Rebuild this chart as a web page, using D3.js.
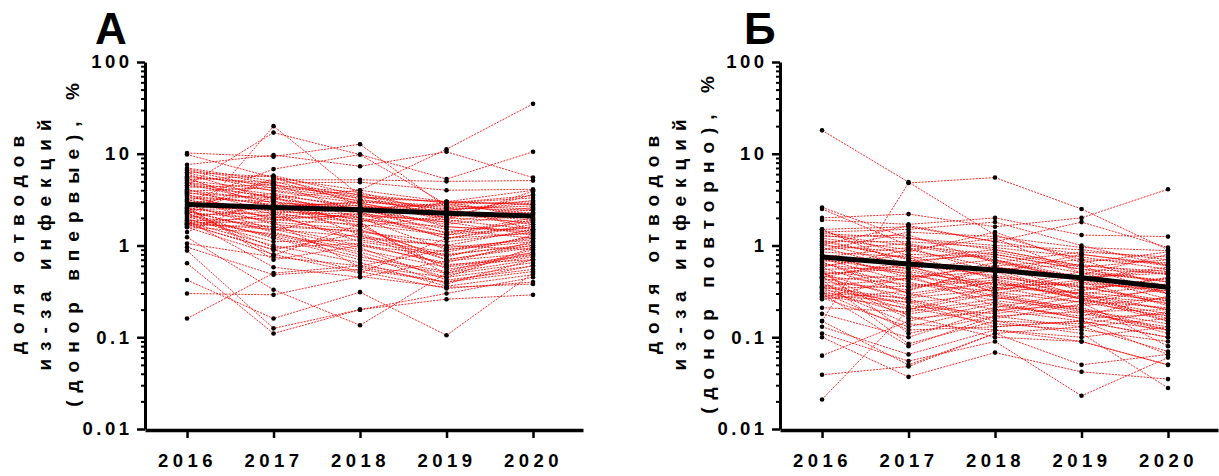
<!DOCTYPE html>
<html>
<head>
<meta charset="utf-8">
<script src="https://cdn.jsdelivr.net/npm/d3@7"></script>
<style>
  html, body { margin: 0; padding: 0; background: #fff; }
  svg { display: block; }
  .lbl { font-family: "Liberation Sans", Arial, sans-serif; font-weight: bold; fill: #000; }
  .num { font-family: "Liberation Sans Narrow", "Liberation Sans", Arial, sans-serif; font-weight: bold; fill: #000; }
</style>
</head>
<body>
<svg id="chart" width="1219" height="476"></svg>
<script>
const years = [2016, 2017, 2018, 2019, 2020];
const yTicks = [0.01, 0.1, 1, 10, 100];

// панель А: донор впервые, каждая строка — регион (2016..2020)
const seriesA = [
  [1.6, 20, 3.5, 2.0, 1.8], [4.5, 17, 9.8, 2.8, 2.2], [10.2, 9.3, 12.7, 2.6, 1.5],
  [9.8, 5.5, 4.0, 11.2, 35], [7.6, 9.7, 7.3, 10.5, 5.5], [3.0, 6.8, 9.8, 5.3, 10.5],
  [0.64, 0.11, 0.2, 0.3, 0.45], [0.16, 0.5, 0.6, 0.9, 1.2], [0.3, 0.29, 0.46, 0.35, 0.38],
  [0.42, 0.16, 0.31, 0.105, 0.5], [0.88, 0.125, 0.2, 0.26, 0.29], [1.23, 0.33, 0.135, 0.5, 0.7],
  [0.96, 0.48, 0.55, 0.4, 0.6], [1.05, 0.75, 0.6, 0.45, 0.95], [2.2, 5.2, 5.2, 5.0, 5.1],
  [5.5, 4.8, 4.9, 4.0, 4.1], [6.2, 3.9, 2.9, 1.9, 3.9], [7.0, 5.0, 3.0, 2.6, 2.4],
  [6.6, 4.2, 3.3, 3.0, 2.8], [6.3, 5.6, 2.8, 1.6, 1.4], [6.0, 3.2, 2.5, 2.9, 3.3],
  [5.7, 4.5, 3.8, 2.2, 1.9], [5.4, 2.6, 1.9, 1.3, 1.6], [5.1, 4.0, 3.1, 2.7, 2.5],
  [4.9, 3.6, 2.0, 0.9, 1.1], [4.7, 2.9, 2.7, 2.4, 2.9], [4.5, 3.4, 1.6, 0.7, 0.95],
  [4.3, 4.6, 3.4, 3.0, 2.0], [4.1, 2.3, 2.2, 1.8, 1.3], [4.0, 3.1, 1.3, 0.6, 0.8],
  [3.8, 2.7, 2.9, 2.0, 2.6], [3.7, 3.3, 2.3, 1.5, 1.2], [3.6, 1.9, 1.7, 0.55, 0.75],
  [3.5, 2.8, 2.6, 2.3, 1.7], [3.4, 2.2, 1.1, 0.8, 1.0], [3.3, 3.0, 2.4, 1.7, 2.2],
  [3.2, 1.7, 1.4, 1.1, 1.4], [3.1, 2.5, 1.8, 0.48, 0.65], [3.0, 2.0, 2.1, 1.9, 1.5],
  [2.9, 3.7, 2.5, 2.8, 3.0], [2.8, 1.5, 0.95, 0.42, 0.55], [2.7, 2.4, 2.0, 1.4, 1.8],
  [2.6, 1.8, 1.5, 0.75, 1.3], [2.5, 2.1, 1.2, 1.0, 0.9], [2.45, 2.6, 3.0, 2.5, 2.7],
  [2.4, 1.4, 0.8, 0.38, 0.7], [2.3, 1.9, 2.2, 1.2, 1.6], [2.2, 1.2, 0.7, 0.5, 0.85],
  [2.15, 2.3, 1.6, 2.1, 2.3], [2.1, 1.6, 1.0, 0.65, 1.1], [2.0, 2.7, 1.9, 1.6, 1.45],
  [1.95, 1.1, 1.15, 0.85, 1.25], [1.9, 1.3, 0.85, 0.45, 0.6], [1.85, 2.0, 2.6, 1.35, 2.0],
  [1.8, 1.0, 0.65, 0.36, 0.48], [1.75, 1.5, 1.25, 1.0, 1.5], [1.7, 0.9, 1.35, 0.7, 1.0],
  [1.65, 2.2, 1.8, 3.0, 2.8], [1.6, 1.35, 0.9, 0.58, 0.78], [1.58, 0.8, 0.5, 1.2, 1.35],
  [1.68, 1.6, 1.45, 0.95, 1.15], [2.05, 1.25, 0.75, 0.52, 0.9], [1.4, 3.5, 2.7, 2.0, 3.6],
  [2.25, 0.95, 1.05, 0.62, 0.7], [1.78, 1.8, 0.58, 0.4, 0.52], [2.55, 0.78, 1.7, 1.3, 1.9],
  [1.88, 0.58, 0.45, 0.68, 0.82], [2.35, 1.45, 2.4, 1.8, 2.5], [1.72, 0.9, 0.52, 0.34, 0.4],
  [2.65, 0.7, 1.0, 0.78, 1.05], [3.9, 4.3, 3.6, 2.9, 3.5], [4.8, 3.3, 4.0, 3.0, 4.0],
  [5.2, 5.8, 3.5, 2.4, 3.1], [6.8, 4.7, 2.3, 1.2, 1.7], [2.38, 5.4, 3.2, 2.2, 2.1]
];
const meanA = [2.8, 2.6, 2.45, 2.25, 2.1];

// панель Б: донор повторно
const seriesB = [
  [18, 4.9, 1.3, 0.7, 0.35], [0.15, 4.8, 5.5, 2.5, 0.9], [2.6, 1.2, 0.9, 0.6, 0.3],
  [2.0, 2.2, 1.6, 2.0, 4.1], [1.9, 1.7, 2.0, 1.3, 1.25], [0.021, 0.2, 0.35, 0.3, 0.15],
  [0.039, 0.048, 0.11, 0.05, 0.065], [0.063, 0.15, 0.23, 0.16, 0.12], [0.1, 0.037, 0.068, 0.042, 0.035],
  [0.11, 0.055, 0.09, 0.023, 0.06], [0.42, 0.085, 0.15, 0.11, 0.028], [0.13, 0.065, 0.12, 0.09, 0.05],
  [0.15, 0.05, 0.11, 0.13, 0.07], [0.18, 0.1, 0.2, 0.15, 0.1], [0.31, 0.12, 0.13, 0.15, 0.065],
  [0.3, 0.08, 0.17, 0.19, 0.12], [1.5, 1.6, 1.1, 1.8, 0.95], [1.4, 1.5, 1.8, 1.0, 0.6],
  [1.3, 1.0, 0.8, 0.55, 0.4], [1.25, 1.3, 0.65, 0.85, 0.75], [1.2, 0.9, 1.2, 0.5, 0.3],
  [1.15, 0.7, 0.45, 0.35, 0.25], [1.1, 1.1, 0.95, 0.75, 0.55], [1.05, 0.6, 0.55, 0.28, 0.2],
  [1.0, 0.85, 1.4, 0.65, 0.85], [0.95, 0.55, 0.35, 0.24, 0.17], [0.9, 1.05, 0.7, 0.45, 0.5],
  [0.85, 0.75, 0.3, 0.4, 0.22], [0.8, 0.45, 0.6, 0.32, 0.45], [0.75, 0.95, 0.5, 0.8, 0.62],
  [0.72, 0.4, 0.25, 0.2, 0.14], [0.68, 0.65, 0.85, 0.58, 0.7], [0.65, 0.35, 0.42, 0.26, 0.33],
  [0.62, 0.5, 0.28, 0.18, 0.13], [0.6, 0.8, 0.75, 0.5, 0.42], [0.57, 0.3, 0.2, 0.22, 0.27],
  [0.55, 0.58, 0.38, 0.3, 0.36], [0.52, 0.42, 0.65, 0.44, 0.58], [0.5, 0.25, 0.15, 0.14, 0.19],
  [0.48, 0.62, 0.47, 0.36, 0.23], [0.46, 0.38, 0.32, 0.48, 0.8], [0.44, 0.28, 0.4, 0.27, 0.16],
  [0.42, 0.47, 0.22, 0.17, 0.28], [0.4, 0.33, 0.55, 0.62, 0.48], [0.38, 0.22, 0.18, 0.25, 0.21],
  [0.36, 0.44, 0.27, 0.21, 0.12], [0.34, 0.36, 0.45, 0.35, 0.38], [0.32, 0.18, 0.24, 0.16, 0.18],
  [0.3, 0.27, 0.33, 0.42, 0.3], [0.28, 0.21, 0.14, 0.12, 0.09], [0.26, 0.32, 0.6, 0.7, 0.65],
  [0.45, 0.16, 0.19, 0.28, 0.24], [0.35, 0.14, 0.12, 0.1, 0.13], [0.29, 0.24, 0.29, 0.19, 0.2],
  [0.21, 0.19, 0.26, 0.33, 0.44], [1.35, 1.2, 1.0, 0.9, 0.7], [1.1, 0.72, 0.9, 0.6, 0.52],
  [0.9, 1.4, 1.25, 0.95, 0.88], [0.7, 0.52, 0.37, 0.38, 0.34], [0.58, 0.9, 0.58, 0.46, 0.26],
  [0.45, 0.68, 0.8, 0.55, 0.5], [0.35, 0.26, 0.16, 0.23, 0.35], [0.27, 0.45, 0.52, 0.26, 0.15],
  [0.27, 0.13, 0.21, 0.31, 0.25], [0.37, 0.2, 0.3, 0.2, 0.11], [1.45, 0.78, 0.43, 0.3, 0.2],
  [1.02, 1.65, 1.1, 0.8, 0.6], [0.78, 0.48, 0.34, 0.52, 0.4], [0.66, 0.3, 0.4, 0.26, 0.18],
  [0.49, 0.56, 0.7, 0.4, 0.32], [0.33, 0.24, 0.13, 0.15, 0.1], [0.53, 0.11, 0.17, 0.13, 0.16],
  [2.5, 1.0, 0.68, 0.43, 0.55], [1.5, 0.6, 0.31, 0.24, 0.08], [0.5, 0.17, 0.1, 0.09, 0.05]
];
const meanB = [0.75, 0.63, 0.54, 0.445, 0.35];

const titleA = ["доля отводов", "из-за инфекций", "(донор впервые), %"];
const titleB = ["доля отводов", "из-за инфекций", "(донор повторно), %"];

const svg = d3.select("#chart");

function drawPanel(ox, series, mean, title, letter, letterX) {
  const g = svg.append("g").attr("transform", `translate(${ox},0)`);

  const x = d3.scaleLinear().domain([2015.514, 2020.578]).range([0, 438]);
  const y = d3.scaleLog().domain([0.01, 100]).range([429, 62]);

  const line = d3.line().x((d, i) => x(years[i])).y(d => y(d));

  g.append("g").selectAll("path")
    .data(series)
    .join("path")
    .attr("d", line)
    .attr("fill", "none")
    .attr("stroke", "#ff0000")
    .attr("stroke-width", 1)
    .attr("stroke-dasharray", "2,1.2")
    .attr("opacity", 0.85);

  g.append("path")
    .datum(mean)
    .attr("d", line)
    .attr("fill", "none")
    .attr("stroke", "#000")
    .attr("stroke-width", 5);

  const pts = series.flatMap(s => s.map((v, i) => [years[i], v]));
  g.append("g").selectAll("circle")
    .data(pts)
    .join("circle")
    .attr("cx", d => x(d[0]))
    .attr("cy", d => y(d[1]))
    .attr("r", 2.3)
    .attr("fill", "#000");

  // ось Y: минорные и основные деления
  const minors = [];
  for (let e = -2; e < 2; e++) {
    for (let k = 2; k <= 9; k++) minors.push(k * Math.pow(10, e));
  }
  g.append("g")
    .call(d3.axisLeft(y).tickValues(minors).tickSize(4).tickFormat(""))
    .call(a => a.select(".domain").remove())
    .call(a => a.selectAll("line").attr("stroke-width", 2));

  const ya = g.append("g")
    .call(d3.axisLeft(y).tickValues(yTicks).tickSize(8).tickSizeOuter(0).tickPadding(4.5)
      .tickFormat(d => String(d)));
  ya.select(".domain").attr("stroke-width", 3);
  ya.selectAll("line").attr("stroke-width", 2.5);
  ya.selectAll("text")
    .attr("class", "num")
    .style("font-size", "18.5px")
    .style("letter-spacing", "3.5px");

  const xa = g.append("g")
    .attr("transform", "translate(0,430)")
    .call(d3.axisBottom(x).tickValues(years).tickSize(8).tickSizeOuter(0).tickFormat(d3.format("d")));
  xa.select(".domain").attr("stroke-width", 3.5);
  xa.selectAll("line").attr("stroke-width", 2.5);
  xa.selectAll("text")
    .attr("class", "num")
    .attr("dy", null)
    .attr("y", 37)
    .style("font-size", "18.5px")
    .style("letter-spacing", "4.5px");

  // заголовок оси Y, три строки
  title.forEach((t, i) => {
    g.append("text")
      .attr("class", "lbl")
      .attr("transform", `translate(${-128 + i * 27.5},245) rotate(-90)`)
      .attr("text-anchor", "middle")
      .attr("dy", "0.35em")
      .attr("dx", 4)
      .style("font-size", "19px")
      .style("letter-spacing", "8px")
      .text(t);
  });

  svg.append("text")
    .attr("x", letterX)
    .attr("y", 44)
    .style("font-family", "'Liberation Sans Narrow', 'Liberation Sans', Arial, sans-serif")
    .style("font-weight", "bold")
    .style("font-size", "44px")
    .text(letter);
}

drawPanel(145, seriesA, meanA, titleA, "А", 95);
drawPanel(780, seriesB, meanB, titleB, "Б", 744);
</script>
</body>
</html>
